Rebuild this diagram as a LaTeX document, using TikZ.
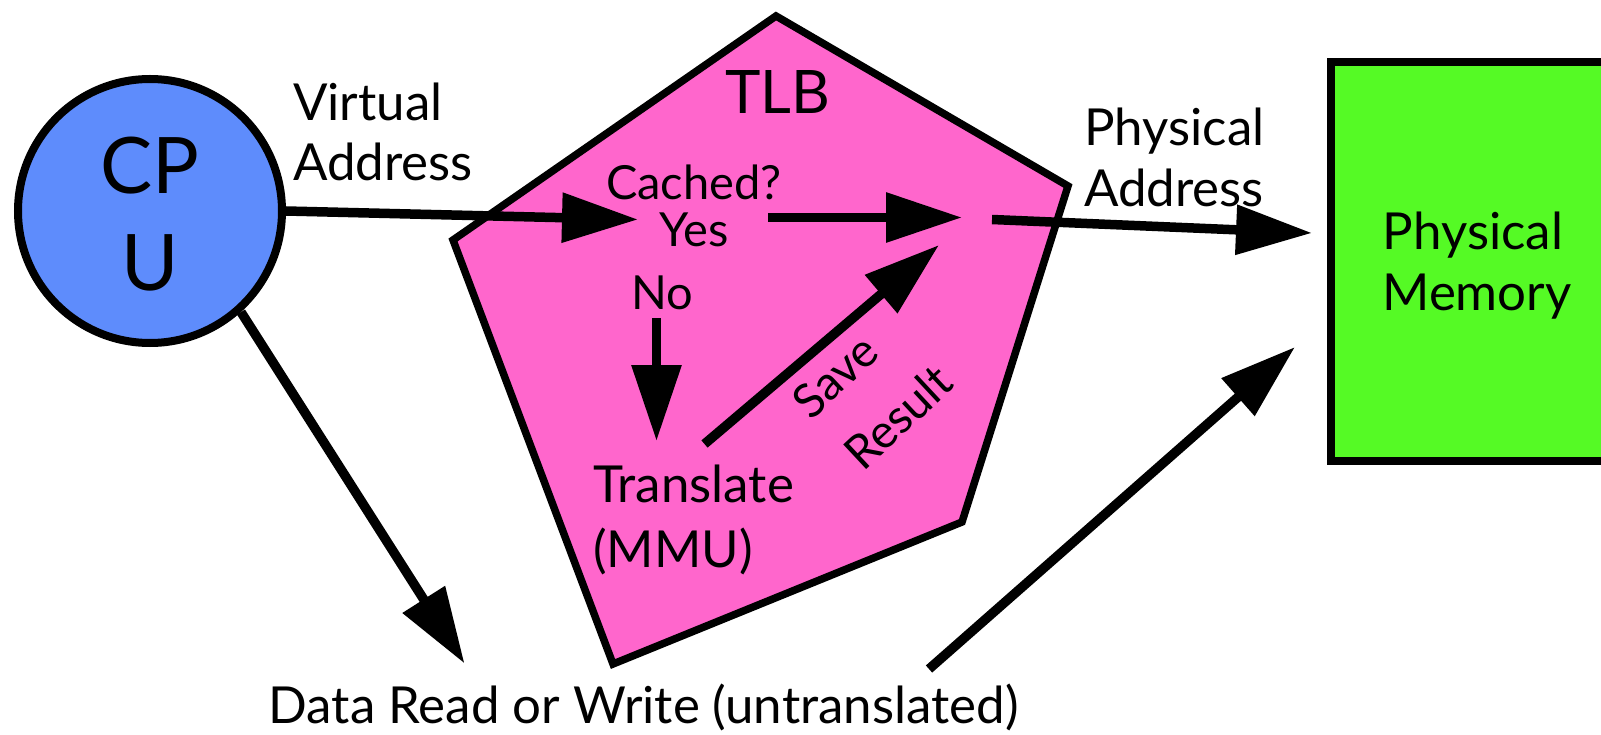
\documentclass[tikz,border=0pt]{standalone}
\usepackage{fontspec}
\setmainfont{Lato}
\usetikzlibrary{arrows.meta}
\definecolor{cpublue}{RGB}{94,140,252}
\definecolor{tlbpink}{RGB}{255,102,204}
\definecolor{memgreen}{RGB}{85,250,37}
\begin{document}
\begin{tikzpicture}[x=1pt,y=-1pt,
  flow/.style={line width=9.5pt,-{Triangle[length=76pt,width=48pt]}},
  outline/.style={draw=black,line width=8pt,line join=miter},
  txt/.style={inner sep=0pt,font=\fontsize{51}{60}\selectfont},
  txtsmall/.style={inner sep=0pt,font=\fontsize{47}{55}\selectfont},
]
\useasboundingbox (0,0) rectangle (1601,735);
\clip (0,0) rectangle (1601,735);

% physical memory (runs off the right edge)
\node[outline,fill=memgreen,rectangle,minimum width=300pt,minimum height=399pt,inner sep=0pt,outer sep=0pt] (mem) at (1481,261.5) {};
\node[txt,anchor=base] (mem1) at (1473,250) {Physical};
\node[txt,anchor=base] (mem2) at (1477,311) {Memory};

% CPU
\node[outline,fill=cpublue,circle,minimum size=264pt,inner sep=0pt] (cpu) at (150,211) {};
\node[inner sep=0pt,font=\fontsize{78}{90}\selectfont,anchor=base] (cpu1) at (150,194) {CP};
\node[inner sep=0pt,font=\fontsize{78}{90}\selectfont,anchor=base] (cpu2) at (150,291) {U};

% TLB pentagon
\coordinate (p1) at (776,16);
\coordinate (p2) at (1068,186);
\coordinate (p3) at (962,522);
\coordinate (p4) at (613,664);
\coordinate (p5) at (453,240);
\draw[outline,line width=7.5pt,fill=tlbpink] (p1) -- (p2) -- (p3) -- (p4) -- (p5) -- cycle;
\node[inner sep=0pt,font=\fontsize{60}{70}\selectfont,anchor=base] (tlb) at (778,114) {TLB};

% labels
\node[txt,anchor=base west] (va1) at (293,120.5) {Virtual};
\node[txt,anchor=base west] (va2) at (293,181) {Address};
\node[txt,anchor=base west] (pa1) at (1084,146) {Physical};
\node[txt,anchor=base west] (pa2) at (1084,207) {Address};
\node[txtsmall,anchor=base] (cached) at (694,200) {Cached?};
\node[txtsmall,anchor=base] (yes) at (694,247) {Yes};
\node[txtsmall,anchor=base] (no) at (662,309) {No};
\node[txt,anchor=base west] (tr1) at (593,502) {Translate};
\node[txt,anchor=base west] (tr2) at (593,567) {(MMU)};
\node[txtsmall,rotate=43] (save) at (835,376) {Save};
\node[txtsmall,rotate=43] (result) at (898,417) {Result};
\node[txt,anchor=base west] (data) at (268.5,723) {Data Read or Write (untranslated)};

% arrow end points
\coordinate (vtip) at (638,219.5);
\coordinate (ystart) at (768,217.5);
\coordinate (ytip) at (962,217.5);
\coordinate (pstart) at (992,219.5);
\coordinate (ptip) at (1312,233);
\coordinate (nstart) at (656.5,318.5);
\coordinate (ntip) at (656.5,441);
\coordinate (sstart) at (704.5,444);
\coordinate (stip) at (939,245);
\coordinate (dtip) at (464.5,663.5);
\coordinate (wstart) at (929,669);
\coordinate (wtip) at (1295,347);

% connectors
\draw[flow] (cpu.east) -- (vtip);
\draw[flow] (ystart) -- (ytip);
\draw[flow] (pstart) -- (ptip);
\draw[flow] (nstart) -- (ntip);
\draw[flow] (sstart) -- (stip);
\draw[flow] (cpu.-48) -- (dtip);
\draw[flow] (wstart) -- (wtip);
\end{tikzpicture}
\end{document}
